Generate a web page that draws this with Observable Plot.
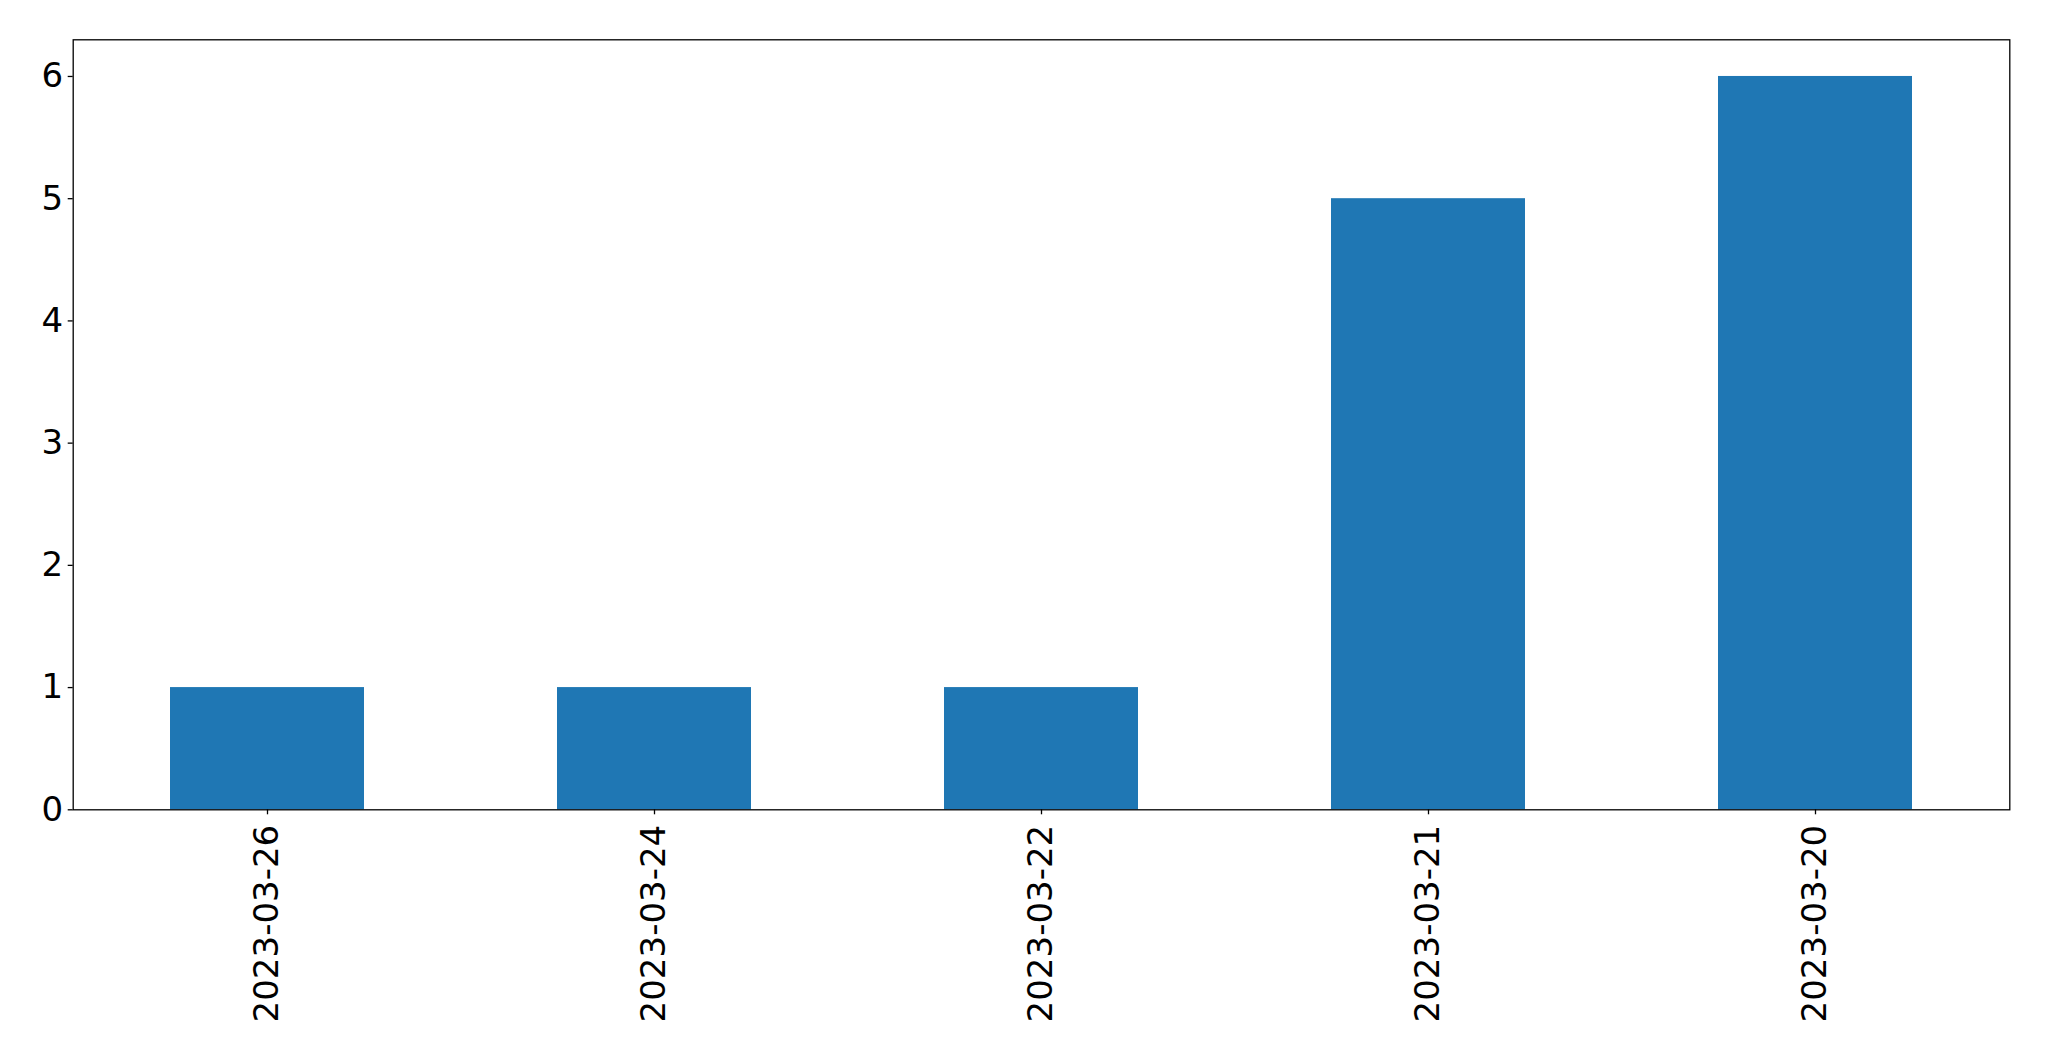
<!DOCTYPE html>
<html>
<head>
<meta charset="utf-8">
<script src="https://cdn.jsdelivr.net/npm/d3@7"></script>
<script src="https://cdn.jsdelivr.net/npm/@observablehq/plot@0.6"></script>
<style>
  html, body { margin: 0; padding: 0; background: #fff; }
  #chart svg { display: block; font-family: "DejaVu Sans", sans-serif; }
</style>
</head>
<body>
<div id="chart"></div>
<script>
const dates = ["2023-03-26", "2023-03-24", "2023-03-22", "2023-03-21", "2023-03-20"];
const counts = [1, 1, 1, 5, 6];
const yTicks = [0, 1, 2, 3, 4, 5, 6];

const data = dates.map((d, i) => ({date: d, count: counts[i]}));

const chart = Plot.plot({
  width: 2049,
  height: 1061,
  marginLeft: 72.7,
  marginRight: 39.7,
  marginTop: 39.3,
  marginBottom: 251.7,
  style: {fontFamily: "DejaVu Sans, sans-serif", background: "#fff", color: "#000"},
  x: {type: "band", domain: dates, paddingInner: 0.5, paddingOuter: 0.25, align: 0.5},
  y: {domain: [0, 6.3]},
  marks: [
    Plot.barY(data, {x: "date", y: "count", fill: "#1f77b4"}),
    Plot.frame({stroke: "#000", strokeWidth: 1.3}),
    Plot.axisY({ticks: yTicks, tickSize: 5, tickPadding: 5, fontSize: 34, label: null, tickFormat: d3.format("d"), stroke: "#000", strokeWidth: 1.3, fill: "#000"}),
    Plot.axisX({tickRotate: -90, tickSize: 5, tickPadding: 10, fontSize: 34, label: null, stroke: "#000", strokeWidth: 1.3, fill: "#000"})
  ]
});
document.getElementById("chart").appendChild(chart);
</script>
</body>
</html>
